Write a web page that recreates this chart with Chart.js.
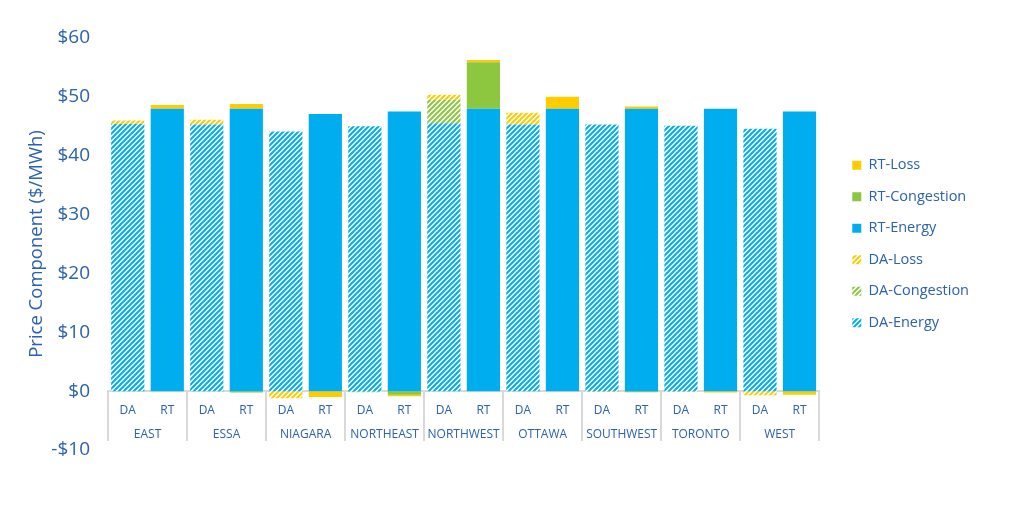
<!DOCTYPE html>
<html>
<head>
<meta charset="utf-8">
<script src="https://cdn.jsdelivr.net/npm/chart.js@4/dist/chart.umd.min.js"></script>
<style>
  body { margin: 0; background: #fff; }
  #wrap { width: 1015px; height: 508px; }
</style>
</head>
<body>
<div id="wrap"><canvas id="grafica"></canvas></div>
<script>
const zonas = ['EAST', 'ESSA', 'NIAGARA', 'NORTHEAST', 'NORTHWEST', 'OTTAWA', 'SOUTHWEST', 'TORONTO', 'WEST'];
const mercados = ['DA', 'RT'];
const yTicks = [-10, 0, 10, 20, 30, 40, 50, 60];

// valores por zona ($/MWh)
const daEnergia = [45.4, 45.3, 44.1, 45.0, 45.5, 45.3, 45.3, 45.1, 44.6];
const daCongestion = [0, 0, 0, -0.2, 4.0, 0, 0, 0, 0];
const daPerdidas = [0.6, 0.8, -1.2, 0, 0.85, 2.0, -0.15, -0.15, -0.7];
const rtEnergia = [48.0, 48.0, 47.1, 47.5, 48.0, 48.0, 48.0, 48.0, 47.5];
const rtCongestion = [0, -0.25, 0, -0.6, 7.9, 0, -0.2, 0, 0];
const rtPerdidas = [0.6, 0.8, -1.0, -0.25, 0.35, 2.0, 0.35, -0.25, -0.6];

const azul = '#00AEEF';
const verde = '#8DC63F';
const amarillo = '#FFCC00';
const texto = '#2A62AD';
const fuente = 'Open Sans';

const etiquetas = [];
zonas.forEach(() => mercados.forEach(m => etiquetas.push(m)));

// DA va en las posiciones pares, RT en las impares
function expandir(valores, lado) {
    const out = [];
    valores.forEach(v => {
        if (lado === 'DA') { out.push(v); out.push(null); }
        else { out.push(null); out.push(v); }
    });
    return out;
}

function rayado(color) {
    const c = document.createElement('canvas');
    c.width = 5; c.height = 5;
    const g = c.getContext('2d');
    g.fillStyle = '#fff';
    g.fillRect(0, 0, 5, 5);
    g.strokeStyle = color;
    g.lineWidth = 2;
    g.beginPath();
    g.moveTo(0, 5); g.lineTo(5, 0);
    g.moveTo(-1, 1); g.lineTo(1, -1);
    g.moveTo(4, 6); g.lineTo(6, 4);
    g.stroke();
    return g.createPattern(c, 'repeat');
}

// mueve la leyenda un poco a la derecha de la zona de barras
const separarLeyenda = {
    id: 'separarLeyenda',
    beforeInit(chart) {
        const leyenda = chart.legend;
        const fit = leyenda.fit;
        const draw = leyenda.draw;
        leyenda.fit = function () { fit.call(this); this.width += 16; };
        leyenda.draw = function () {
            this.ctx.save();
            this.ctx.translate(16, 0);
            draw.call(this);
            this.ctx.restore();
        };
    }
};

const $grafica = document.querySelector('#grafica');

new Chart($grafica, {
    type: 'bar',
    data: {
        labels: etiquetas,
        datasets: [
            { label: 'DA-Energy', data: expandir(daEnergia, 'DA'), backgroundColor: rayado(azul) },
            { label: 'DA-Congestion', data: expandir(daCongestion, 'DA'), backgroundColor: rayado(verde) },
            { label: 'DA-Loss', data: expandir(daPerdidas, 'DA'), backgroundColor: rayado(amarillo) },
            { label: 'RT-Energy', data: expandir(rtEnergia, 'RT'), backgroundColor: azul },
            { label: 'RT-Congestion', data: expandir(rtCongestion, 'RT'), backgroundColor: verde },
            { label: 'RT-Loss', data: expandir(rtPerdidas, 'RT'), backgroundColor: amarillo },
        ]
    },
    plugins: [separarLeyenda],
    options: {
        responsive: true,
        maintainAspectRatio: false,
        animation: false,
        categoryPercentage: 1,
        barPercentage: 0.84,
        layout: { padding: { left: 22, top: 38, right: 36, bottom: 58 } },
        plugins: {
            tooltip: { enabled: false },
            legend: {
                position: 'right',
                reverse: true,
                labels: {
                    boxWidth: 9,
                    boxHeight: 9,
                    padding: 17,
                    color: texto,
                    font: { family: fuente, size: 14.5 }
                }
            }
        },
        scales: {
            x: {
                stacked: true,
                position: { y: 0 },
                grid: { display: false },
                border: { color: '#d9d9d9', width: 2 },
                ticks: { color: texto, padding: 4, maxRotation: 0, autoSkip: false, font: { family: fuente, size: 12 } },
                afterFit: s => { s.height = 0; }
            },
            x2: {
                type: 'category',
                labels: zonas,
                position: { y: 0 },
                offset: true,
                grid: { offset: true, drawOnChartArea: false, tickLength: 50, color: '#d9d9d9', lineWidth: 2 },
                border: { display: false },
                ticks: { color: texto, padding: -14, maxRotation: 0, minRotation: 0, autoSkip: false, font: { family: fuente, size: 12 } },
                afterFit: s => { s.height = 0; }
            },
            y: {
                stacked: true,
                min: yTicks[0],
                max: yTicks[yTicks.length - 1],
                afterBuildTicks: s => { s.ticks = yTicks.map(v => ({ value: v })); },
                afterFit: s => { s.width = 86; },
                grid: { display: false, drawTicks: false },
                border: { display: false },
                ticks: {
                    color: texto,
                    padding: 18,
                    font: { family: fuente, size: 19 },
                    callback: v => (v < 0 ? '-$' + Math.abs(v) : '$' + v)
                },
                title: {
                    display: true,
                    text: 'Price Component ($/MWh)',
                    color: texto,
                    font: { family: fuente, size: 18.5 }
                }
            }
        }
    }
});
</script>
</body>
</html>
